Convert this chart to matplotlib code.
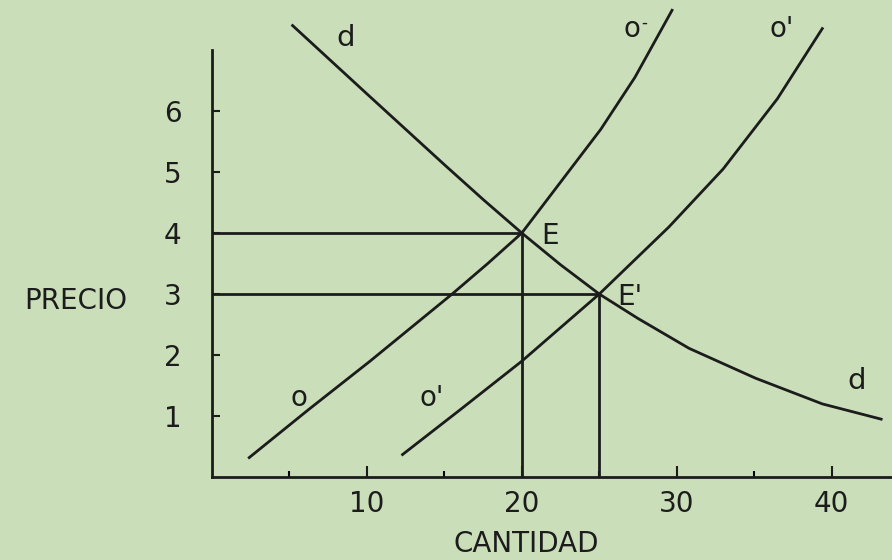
import matplotlib
matplotlib.use("Agg")
import matplotlib.pyplot as plt

# demand curve d (cantidad, precio)
d_x = [5.2, 10, 15, 17.5, 20, 22.5, 25, 27.5, 30.8, 35.1, 39.4, 43.2]
d_y = [7.4, 6.28, 5.12, 4.55, 4.0, 3.48, 3.0, 2.6, 2.11, 1.62, 1.2, 0.95]

# supply curve o
o_x = [2.4, 6.2, 10.2, 15.5, 17.8, 20, 23, 25.1, 27.3, 29.7]
o_y = [0.32, 1.1, 1.9, 3.0, 3.5, 4.0, 5.0, 5.7, 6.55, 7.65]

# shifted supply curve o'
o2_x = [12.3, 16, 20, 25, 29.5, 33, 36.5, 39.4]
o2_y = [0.37, 1.1, 1.9, 3.0, 4.1, 5.05, 6.2, 7.35]

# equilibrium points E and E'
eq_x = [20, 25]
eq_y = [4, 3]
eq_names = ["E", "E'"]

y_ticks = [1, 2, 3, 4, 5, 6]
x_ticks = [10, 20, 30, 40]
x_minor = [5, 15, 25, 35]

bg = "#cadfb9"
ink = "#1c1c1c"

fig = plt.figure(figsize=(8.92, 5.6), dpi=100, facecolor=bg)
ax = fig.add_axes([0.2377, 0.148, 0.7623, 0.85])
ax.set_facecolor(bg)
ax.set_xlim(0, 43.9)
ax.set_ylim(0, 7.8)

lw = 2.0
ax.plot(d_x, d_y, color=ink, lw=lw, clip_on=False)
ax.plot(o_x, o_y, color=ink, lw=lw, clip_on=False)
ax.plot(o2_x, o2_y, color=ink, lw=lw, clip_on=False)

# guide lines from the equilibrium points to the axes
for x, y in zip(eq_x, eq_y):
    ax.plot([0, x], [y, y], color=ink, lw=lw)
    ax.plot([x, x], [0, y], color=ink, lw=lw)

# axes
for s in ["top", "right"]:
    ax.spines[s].set_visible(False)
ax.spines["left"].set_bounds(0, 7.0)
ax.spines["left"].set_linewidth(lw)
ax.spines["bottom"].set_linewidth(lw)
ax.spines["left"].set_color(ink)
ax.spines["bottom"].set_color(ink)

ax.set_yticks(y_ticks)
ax.set_xticks(x_ticks)
ax.set_xticks(x_minor, minor=True)
ax.tick_params(axis="y", direction="in", length=6, width=1.5, pad=22,
               labelsize=20, colors=ink)
ax.tick_params(axis="x", direction="in", length=8, width=1.5, pad=9,
               labelsize=20, colors=ink)
ax.tick_params(axis="x", which="minor", direction="in", length=4, width=1.5)

ax.text(-0.2, 0.37, "PRECIO", transform=ax.transAxes, fontsize=20,
        color=ink, ha="center", va="center")
ax.text(0.462, -0.141, "CANTIDAD", transform=ax.transAxes, fontsize=20,
        color=ink, ha="center", va="center")

# curve labels
ax.text(8.6, 7.2, "d", fontsize=21, color=ink, ha="center", va="center")
ax.text(41.6, 1.57, "d", fontsize=21, color=ink, ha="center", va="center")
ax.text(27.1, 7.35, "o", fontsize=20, color=ink, ha="center", va="center")
ax.text(27.9, 7.45, "-", fontsize=12, color=ink, ha="center", va="center")
ax.text(36.8, 7.35, "o'", fontsize=20, color=ink, ha="center", va="center")
ax.text(5.6, 1.3, "o", fontsize=20, color=ink, ha="center", va="center")
ax.text(14.2, 1.3, "o'", fontsize=20, color=ink, ha="center", va="center")

ax.text(eq_x[0] + 1.8, eq_y[0] - 0.05, eq_names[0], fontsize=20,
        color=ink, ha="center", va="center")
ax.text(eq_x[1] + 2.0, eq_y[1] - 0.05, eq_names[1], fontsize=20,
        color=ink, ha="center", va="center")

fig.savefig("out.png", dpi=100, facecolor=bg)
